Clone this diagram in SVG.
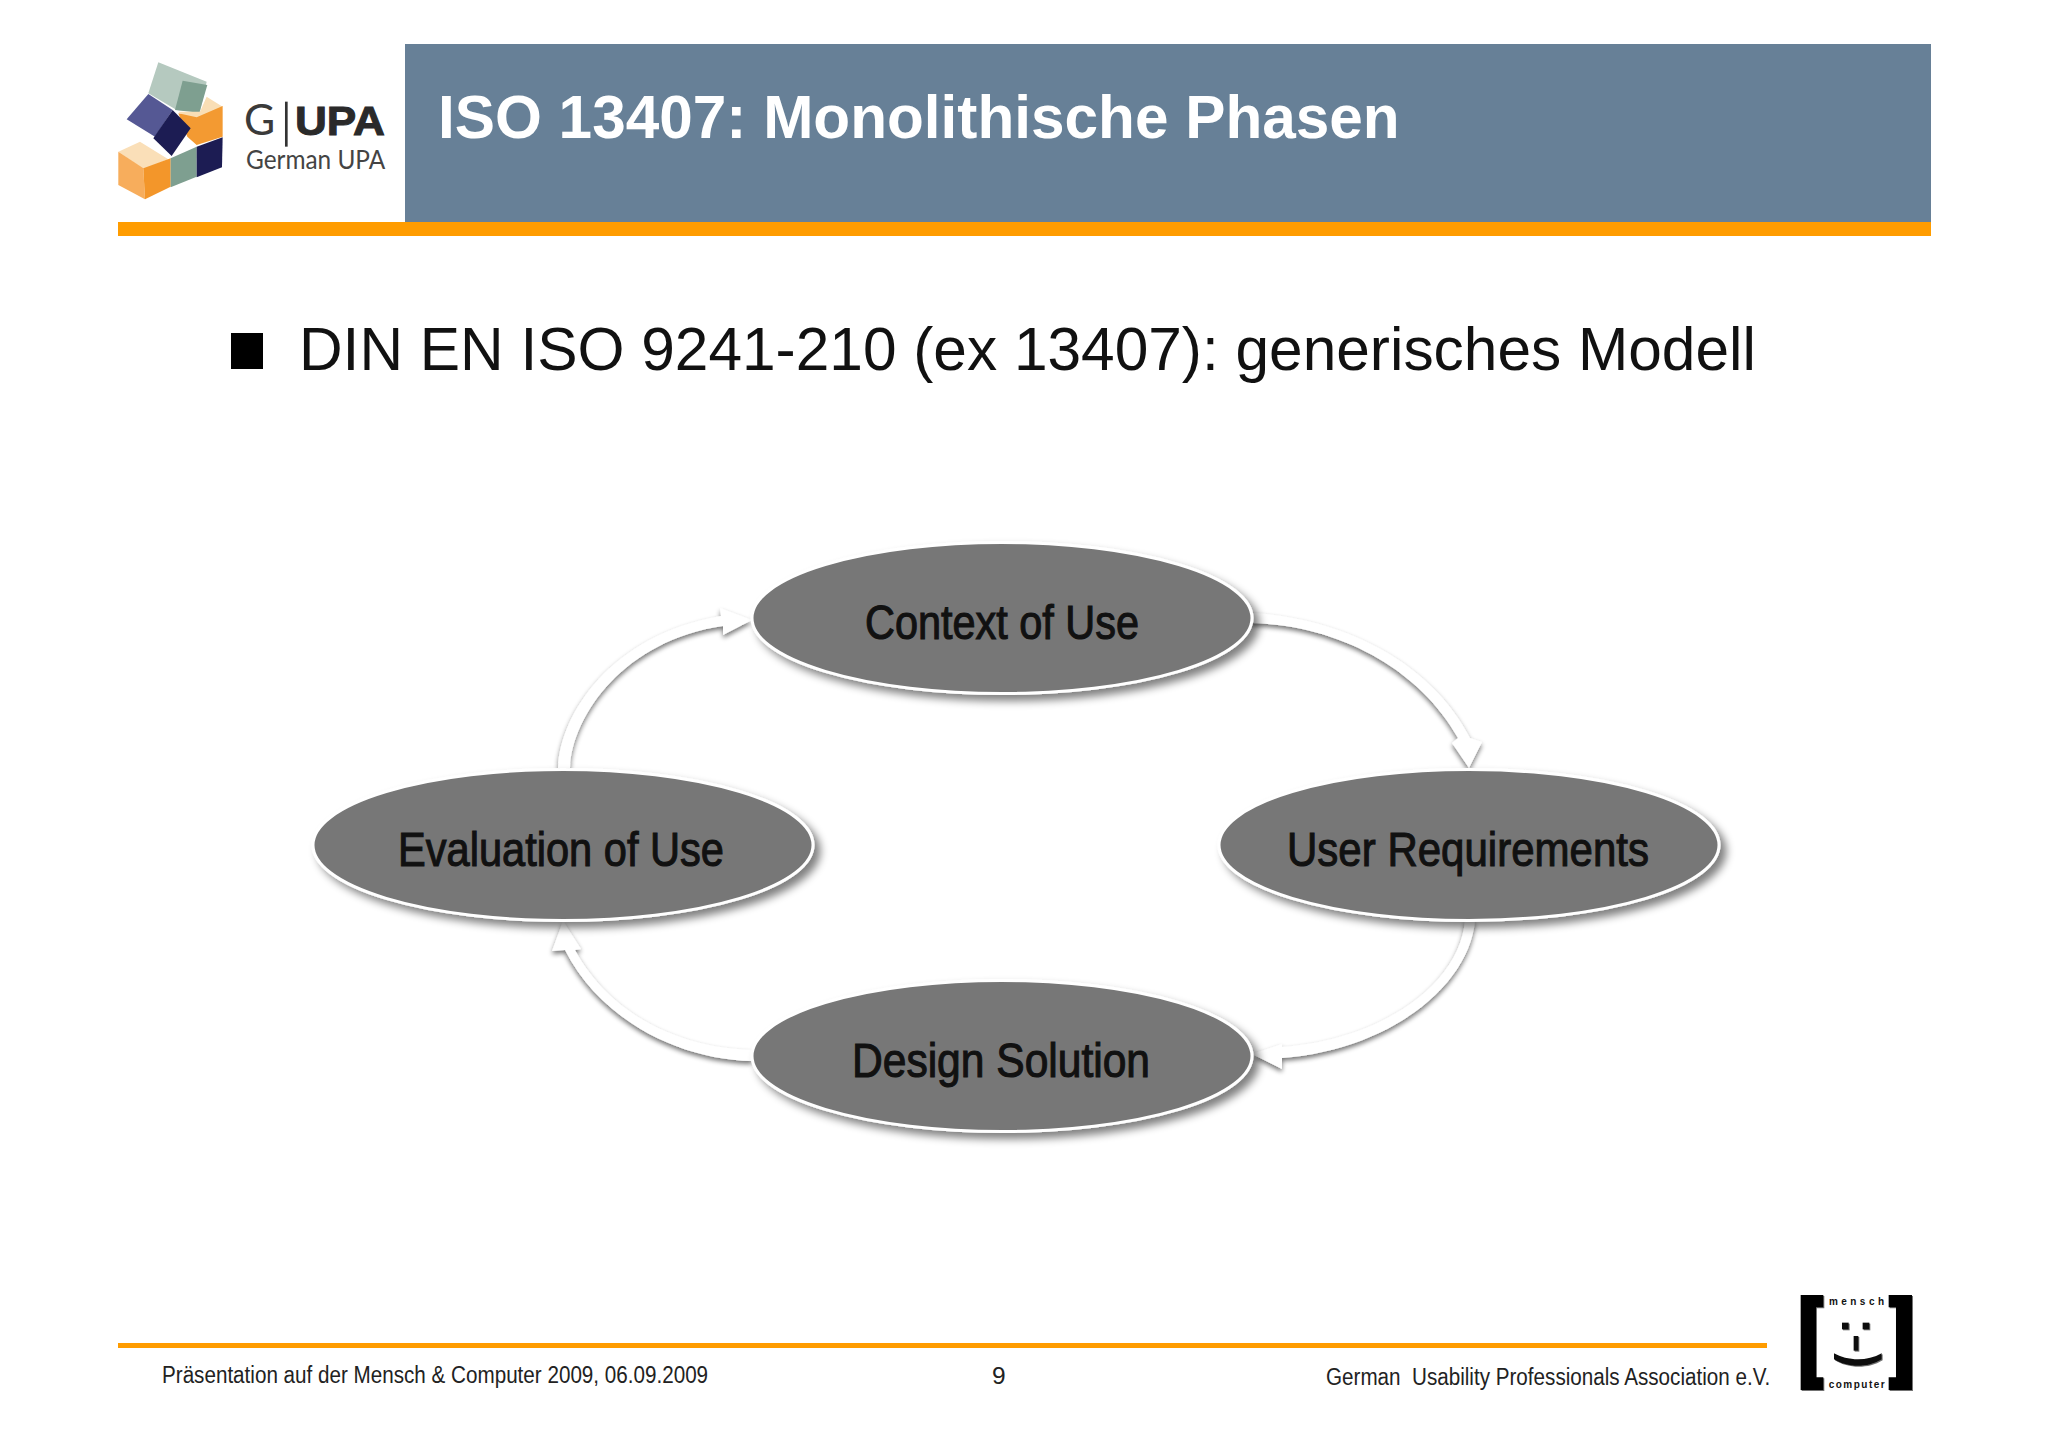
<svg xmlns="http://www.w3.org/2000/svg" width="2048" height="1447" viewBox="0 0 2048 1447">
<style>
text{font-family:"Liberation Sans",Arial,sans-serif}
.el{fill:#777;stroke:#fff;stroke-width:3;filter:url(#sh)}
.lab{font-size:48px;fill:#111;text-anchor:middle;stroke:#111;stroke-width:1.1}
.arr{fill:#fff;stroke:none;filter:url(#sh2)}
.foot{font-size:24.5px;fill:#222}
.lg{font-family:Lato,"Liberation Sans",sans-serif}
</style>
<defs>
<filter id="sh" x="-10%" y="-20%" width="125%" height="145%"><feGaussianBlur in="SourceAlpha" stdDeviation="4"/><feOffset dx="6" dy="6"/><feComponentTransfer><feFuncA type="linear" slope=".5"/></feComponentTransfer><feMerge><feMergeNode/><feMergeNode in="SourceGraphic"/></feMerge></filter>
<filter id="sh2" x="-20%" y="-20%" width="140%" height="140%"><feGaussianBlur in="SourceAlpha" stdDeviation="2.5"/><feOffset dx="0" dy="3"/><feComponentTransfer><feFuncA type="linear" slope=".55"/></feComponentTransfer><feMerge><feMergeNode/><feMergeNode in="SourceGraphic"/></feMerge></filter>
<filter id="sh3" x="-10%" y="-10%" width="125%" height="125%"><feGaussianBlur in="SourceAlpha" stdDeviation="2"/><feOffset dx="3" dy="3"/><feComponentTransfer><feFuncA type="linear" slope=".55"/></feComponentTransfer><feMerge><feMergeNode/><feMergeNode in="SourceGraphic"/></feMerge></filter>
<filter id="soft"><feGaussianBlur stdDeviation="1.6"/></filter>
</defs>
<rect width="2048" height="1447" fill="#fff"/>

<g id="header">
<rect x="405" y="44" width="1526" height="178" fill="#678097"/>
<rect x="118" y="222" width="1813" height="14" fill="#ff9c00"/>
<text x="438" y="138" font-size="60.3" font-weight="700" fill="#fff">ISO 13407: Monolithische Phasen</text>
</g>

<g id="logo" transform="translate(100 30) scale(.3333)">
<g filter="url(#soft)">
<polygon points="145,190 175,97 320,155 300,245 230,240" fill="#b5c9bf"/>
<polygon points="248,152 322,165 298,248 225,240" fill="#7e9f90"/>
<polygon points="235,245 300,245 320,200 368,230 290,290" fill="#f9deb5"/>
<polygon points="235,250 290,262 368,228 368,320 290,345 262,320" fill="#f39a32"/>
<polygon points="80,268 145,192 218,240 165,320" fill="#545894"/>
<polygon points="218,240 272,295 215,378 160,325" fill="#1c1c52"/>
<polygon points="55,365 120,335 205,388 130,418" fill="#fadfb8"/>
<polygon points="55,365 130,415 135,508 55,465" fill="#f7ad5b"/>
<polygon points="130,415 212,385 212,470 135,508" fill="#f3962a"/>
<polygon points="212,385 290,350 290,440 212,472" fill="#7e9f90"/>
<polygon points="290,350 368,322 366,412 290,442" fill="#1c1c52"/>
</g>
<text class="lg" x="432" y="316" font-size="128" fill="#3a3a3a">G</text>
<rect x="555" y="215" width="8" height="135" fill="#333"/>
<text x="585" y="316" font-size="124" font-weight="700" fill="#2a2a2a" stroke="#2a2a2a" stroke-width="3" textLength="270" lengthAdjust="spacingAndGlyphs">UPA</text>
<text class="lg" x="438" y="416" font-size="78" fill="#444" textLength="418" lengthAdjust="spacingAndGlyphs">German UPA</text>
</g>

<g id="bullet">
<rect x="231" y="333" width="32" height="36" fill="#000"/>
<text x="299" y="370" font-size="60.4" fill="#111">DIN EN ISO 9241-210 (ex 13407): generisches Modell</text>
</g>

<g id="connectors">
<path class="arr" d="M558 768C560 715 610 635 721 616L720 608 752 620 723 635 723 626C625 640 572 715 570 768Z"/>
<path class="arr" d="M1252 613C1340 618 1430 660 1470 738L1482 742 1469 768 1452 743 1458 738C1420 670 1340 625 1250 623Z"/>
<path class="arr" d="M1465 920C1460 985 1380 1040 1282 1047L1282 1044 1252 1054 1282 1069 1282 1058C1390 1050 1470 985 1475 920Z"/>
<path class="arr" d="M752 1061C680 1060 600 1020 565 950L552 951 563 921 581 949 575 950C610 1015 680 1048 752 1050Z"/>
</g>

<g id="node-context"><ellipse class="el" cx="1002" cy="618" rx="250" ry="75.5"/><text class="lab" x="1002" y="639" textLength="274" lengthAdjust="spacingAndGlyphs">Context of Use</text></g>
<g id="node-user"><ellipse class="el" cx="1469" cy="845" rx="250" ry="75.5"/><text class="lab" x="1468" y="866" textLength="362" lengthAdjust="spacingAndGlyphs">User Requirements</text></g>
<g id="node-design"><ellipse class="el" cx="1002" cy="1056" rx="250" ry="75.5"/><text class="lab" x="1001" y="1077" textLength="298" lengthAdjust="spacingAndGlyphs">Design Solution</text></g>
<g id="node-evaluation"><ellipse class="el" cx="563" cy="845" rx="250" ry="75.5"/><text class="lab" x="561" y="866" textLength="326" lengthAdjust="spacingAndGlyphs">Evaluation of Use</text></g>

<g id="footer">
<rect x="118" y="1343" width="1649" height="5" fill="#ff9c00"/>
<text class="foot" transform="translate(162 1383) scale(.843 1)">Präsentation auf der Mensch &amp; Computer 2009, 06.09.2009</text>
<text class="foot" x="992" y="1384">9</text>
<text class="foot" transform="translate(1326 1385) scale(.843 1)" xml:space="preserve">German  Usability Professionals Association e.V.</text>
</g>

<g id="mc-logo" transform="translate(1760 1270) scale(.3333)">
<g filter="url(#sh3)">
<path d="M122 75H190V112H168V322H190V360H122Z M456 75H386V112H408V322H386V360H456Z" fill="#000"/>
<rect x="246" y="158" width="20" height="20" fill="#111"/>
<rect x="308" y="158" width="20" height="20" fill="#111"/>
<rect x="281" y="198" width="14" height="44" fill="#111"/>
<path d="M222 250C260 272 320 276 365 250L365 268C320 296 260 292 222 268Z" fill="#111"/>
</g>
<text x="207" y="106" font-size="30" font-weight="700" fill="#111" font-family="Liberation Mono" textLength="165">mensch</text>
<text x="206" y="354" font-size="30" font-weight="700" fill="#111" font-family="Liberation Mono" textLength="168">computer</text>
</g>
</svg>
